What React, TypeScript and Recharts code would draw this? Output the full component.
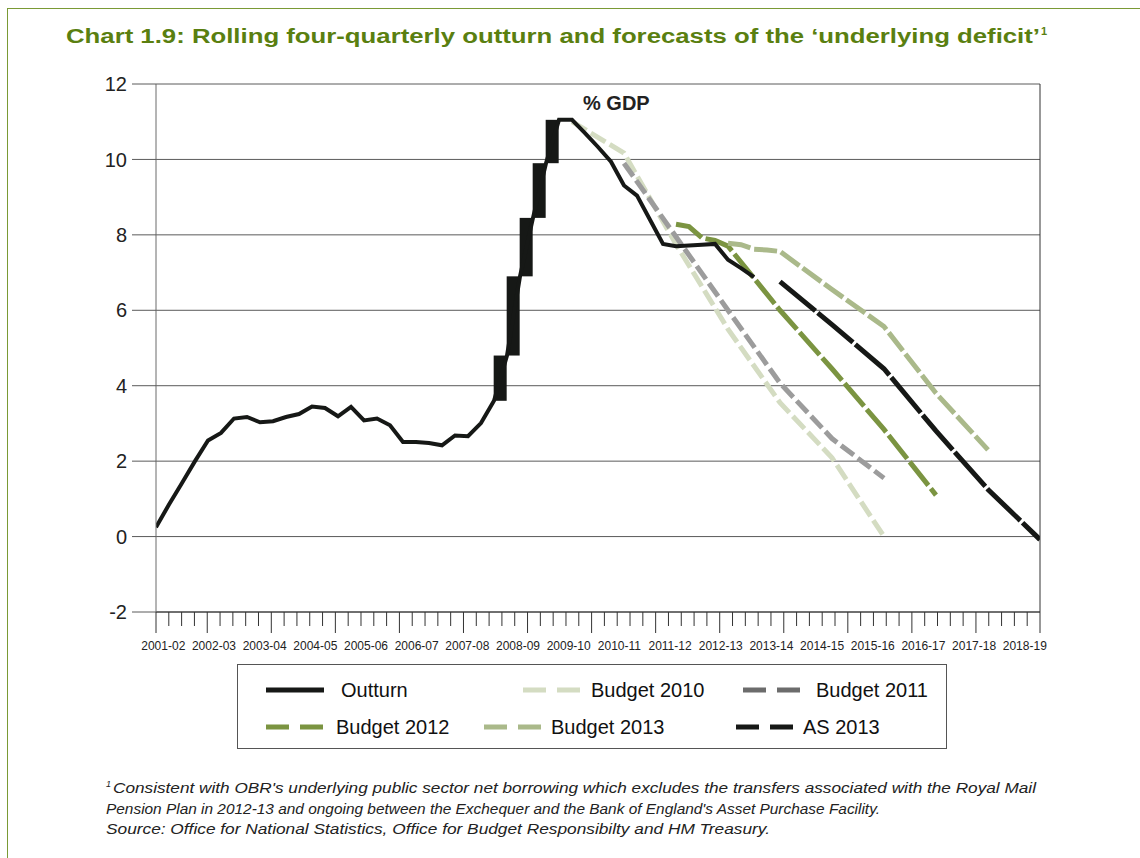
import React from 'react';
import { ComposedChart, Line, Bar, XAxis, YAxis, CartesianGrid } from 'recharts';

// quarterly series, index 0 = first quarter of 2001-02
const yearLabels = [
  '2001-02', '2002-03', '2003-04', '2004-05', '2005-06', '2006-07', '2007-08', '2008-09', '2009-10',
  '2010-11', '2011-12', '2012-13', '2013-14', '2014-15', '2015-16', '2016-17', '2017-18', '2018-19',
];

const outturn = [
  0.25, 0.85, 1.42, 2.0, 2.55, 2.75, 3.13, 3.17, 3.03, 3.06,
  3.17, 3.25, 3.45, 3.41, 3.19, 3.44, 3.08, 3.13, 2.95, 2.51,
  2.51, 2.48, 2.42, 2.68, 2.66, 3.01, 3.6, 4.8, 6.9, 8.45,
  9.9, 11.05, 11.05, 10.7, 10.33, 9.94, 9.31, 9.04, 8.4, 7.76,
  7.7, 7.72, 7.74, 7.76, 7.34, 7.12, 6.88,
];

const budget2010Quarters = [32, 36, 40, 44, 48, 52, 56];
const budget2010 = [11.0, 10.17, 7.75, 5.5, 3.55, 2.09, 0];

const budget2011Quarters = [36, 40, 44, 48, 52, 56];
const budget2011 = [9.9, 7.95, 6.0, 4.07, 2.6, 1.55];

const budget2012Quarters = [40, 41, 42, 43, 44, 48, 52, 56, 60];
const budget2012 = [8.28, 8.22, 7.92, 7.85, 7.7, 6.0, 4.45, 2.84, 1.1];

const budget2013Quarters = [44, 45, 46, 47, 48, 52, 56, 60, 64];
const budget2013 = [7.78, 7.74, 7.62, 7.6, 7.56, 6.55, 5.57, 3.8, 2.3];

const as2013Quarters = [48, 52, 56, 60, 64, 68];
const as2013 = [6.76, 5.62, 4.45, 2.8, 1.25, -0.08];

const yTicks = [-2, 0, 2, 4, 6, 8, 10, 12];

const LAST_QUARTER = 68;
// the original's tick marks and year labels do not sit on the data quarters:
// 69 tick slots across the axis, labels spread evenly with a small inset
const TICK_SLOTS = 69;
const tickQs = Array.from({ length: TICK_SLOTS + 1 }, (_, i) => (i * LAST_QUARTER) / TICK_SLOTS);
const LABEL_START = -0.144;
const LABEL_END = 17.3;
const labelQs = yearLabels.map(
  (_, i) => ((i - LABEL_START) * LAST_QUARTER) / (LABEL_END - LABEL_START)
);

type Row = { q: number; [k: string]: any };

const rows: Record<string, Row> = {};
const put = (q: number, key: string, v: any) => {
  if (!rows[q]) rows[q] = { q };
  rows[q][key] = v;
};
outturn.forEach((v, i) => put(i, 'outturn', v));
budget2010.forEach((v, i) => put(budget2010Quarters[i], 'b2010', v));
budget2011.forEach((v, i) => put(budget2011Quarters[i], 'b2011', v));
budget2012.forEach((v, i) => put(budget2012Quarters[i], 'b2012', v));
budget2013.forEach((v, i) => put(budget2013Quarters[i], 'b2013', v));
as2013.forEach((v, i) => put(as2013Quarters[i], 'as2013', v));
// steep outturn moves render as solid blocks in the original
outturn.forEach((v, i) => {
  const next = outturn[i + 1];
  if (next !== undefined && Math.abs(next - v) > 1) {
    put(i + 0.5, 'block', [Math.min(v, next), Math.max(v, next)]);
  }
});
const chartData = Object.values(rows).sort((a, b) => a.q - b.q);

const series = [
  { key: 'outturn', name: 'Outturn', color: '#161816', legend: '#161816', dash: undefined, width: 4 },
  { key: 'b2010', name: 'Budget 2010', color: '#d4dcc2', legend: '#d4dcc2', dash: '17 5', width: 5 },
  { key: 'b2011', name: 'Budget 2011', color: '#9c9c9c', legend: '#6c6c6c', dash: '16 5', width: 5 },
  { key: 'b2012', name: 'Budget 2012', color: '#7b9441', legend: '#7b9441', dash: '30 4', width: 5 },
  { key: 'b2013', name: 'Budget 2013', color: '#aab98a', legend: '#aab98a', dash: '23 4', width: 5 },
  { key: 'as2013', name: 'AS 2013', color: '#161816', legend: '#161816', dash: '46 3', width: 5 },
];

// legend entry placement inside the box (left of sample, left of text, row)
const legendLayout = [
  { sample: 28, text: 103, row: 0 },
  { sample: 285, text: 353, row: 0 },
  { sample: 505, text: 578, row: 0 },
  { sample: 28, text: 98, row: 1 },
  { sample: 246, text: 313, row: 1 },
  { sample: 498, text: 565, row: 1 },
];

const footnoteLines = [
  "Consistent with OBR's underlying public sector net borrowing which excludes the transfers associated with the Royal Mail",
  "Pension Plan in 2012-13 and ongoing between the Exchequer and the Bank of England's Asset Purchase Facility.",
  'Source: Office for National Statistics, Office for Budget Responsibilty and HM Treasury.',
];

const FONT = '"Liberation Sans", Arial, Helvetica, sans-serif';

const QuarterTick = (props: any) => {
  const { x, y, index } = props;
  const major = index === 0 || index % 5 === 4;
  return <line x1={x} x2={x} y1={y} y2={y + (major ? 21 : 14)} stroke="#333" strokeWidth={1} />;
};

const YearTick = (props: any) => {
  const { x, y, index } = props;
  return (
    <text x={x} y={y} dy="0.71em" textAnchor="middle" fontSize={12} fill="#222" fontFamily={FONT}>
      {yearLabels[index]}
    </text>
  );
};

// draw the steep-move blocks one quarter wide, centred on the segment
const BlockShape = (props: any) => {
  const { x, y, width, height, fill } = props;
  if (x == null || y == null) return null;
  const cx = x + width / 2;
  const top = Math.min(y, y + height);
  return <rect x={cx - 6.5} y={top} width={13} height={Math.abs(height)} fill={fill} />;
};

const LegendBox = () => (
  <div
    style={{
      position: 'absolute',
      left: 237,
      top: 664,
      width: 708,
      height: 83,
      border: '1px solid #555',
      fontFamily: FONT,
      fontSize: 20,
      color: '#111',
    }}
  >
    {series.map((s, i) => {
      const pos = legendLayout[i];
      const cy = pos.row === 0 ? 25 : 62;
      return (
        <React.Fragment key={s.key}>
          <svg width={58} height={10} style={{ position: 'absolute', left: pos.sample, top: cy - 5 }}>
            <line
              x1={0}
              x2={58}
              y1={5}
              y2={5}
              stroke={s.legend}
              strokeWidth={5}
              strokeDasharray={s.dash ? '23 11' : undefined}
            />
          </svg>
          <span style={{ position: 'absolute', left: pos.text, top: cy - 12, whiteSpace: 'nowrap', lineHeight: '24px' }}>
            {s.name}
          </span>
        </React.Fragment>
      );
    })}
  </div>
);

const App: React.FC = () => {
  return (
    <div
      style={{
        position: 'absolute',
        left: 0,
        top: 0,
        width: 1140,
        height: 858,
        background: '#fff',
        fontFamily: FONT,
        overflow: 'hidden',
      }}
    >
      <div
        style={{
          position: 'absolute',
          left: 7,
          top: 8,
          width: 1140,
          height: 858,
          borderTop: '1px solid #7a9a35',
          borderLeft: '1px solid #7a9a35',
        }}
      />

      {/* title and footnote as svg text so their widths follow the original */}
      <svg width={1140} height={858} style={{ position: 'absolute', left: 0, top: 0 }}>
        <text
          x={66}
          y={43}
          fontFamily={FONT}
          fontSize={20}
          fontWeight="bold"
          fill="#5a7f10"
          textLength={974}
          lengthAdjust="spacingAndGlyphs"
        >
          Chart 1.9: Rolling four-quarterly outturn and forecasts of the ‘underlying deficit’
        </text>
        <text x={1041} y={35} fontFamily={FONT} fontSize={11} fontWeight="bold" fill="#5a7f10">
          1
        </text>
        <text x={106} y={787} fontFamily={FONT} fontSize={9} fontStyle="italic" fill="#222">
          1
        </text>
        {footnoteLines.map((line, i) => (
          <text
            key={i}
            x={i === 0 ? 113 : 106}
            y={793 + i * 20.5}
            fontFamily={FONT}
            fontSize={15.5}
            fontStyle="italic"
            fill="#222"
            textLength={[923, 774, 664][i]}
            lengthAdjust="spacingAndGlyphs"
          >
            {line}
          </text>
        ))}
      </svg>

      <div style={{ position: 'absolute', left: 0, top: 0 }}>
        <ComposedChart
          width={1140}
          height={680}
          data={chartData}
          margin={{ top: 84, right: 99, left: 76, bottom: 16 }}
        >
          <CartesianGrid xAxisId="q" vertical={false} stroke="#5a5a5a" strokeWidth={1} />
          <XAxis xAxisId="q" dataKey="q" type="number" domain={[0, LAST_QUARTER]} allowDataOverflow hide />
          <XAxis
            xAxisId="b"
            dataKey="q"
            type="number"
            domain={[0, LAST_QUARTER]}
            allowDataOverflow
            ticks={labelQs}
            interval={0}
            tick={<YearTick />}
            tickLine={false}
            axisLine={false}
            tickSize={0}
            tickMargin={7}
            height={30}
          />
          <XAxis
            xAxisId="a"
            dataKey="q"
            type="number"
            domain={[0, LAST_QUARTER]}
            allowDataOverflow
            ticks={tickQs}
            interval={0}
            tick={<QuarterTick />}
            tickLine={false}
            tickSize={0}
            tickMargin={0}
            axisLine={{ stroke: '#333' }}
            height={22}
          />
          <YAxis
            type="number"
            domain={[-2, 12]}
            ticks={yTicks}
            interval={0}
            width={80}
            tickSize={24}
            tickMargin={5}
            tick={{ fontSize: 20, fill: '#222', fontFamily: FONT }}
            tickLine={{ stroke: '#5a5a5a' }}
            axisLine={{ stroke: '#6a6a6a' }}
          />
          <YAxis
            yAxisId="r"
            orientation="right"
            type="number"
            domain={[-2, 12]}
            width={1}
            tick={false}
            tickLine={false}
            axisLine={{ stroke: '#333' }}
          />
          {series.slice(1).map((s) => (
            <Line
              key={s.key}
              xAxisId="q"
              dataKey={s.key}
              stroke={s.color}
              strokeWidth={s.width}
              strokeDasharray={s.dash}
              dot={false}
              activeDot={false}
              connectNulls
              isAnimationActive={false}
            />
          ))}
          <Bar
            xAxisId="q"
            dataKey="block"
            fill="#161816"
            barSize={13}
            shape={<BlockShape />}
            isAnimationActive={false}
          />
          <Line
            xAxisId="q"
            dataKey="outturn"
            stroke="#161816"
            strokeWidth={4}
            dot={false}
            activeDot={false}
            connectNulls
            isAnimationActive={false}
          />
        </ComposedChart>
      </div>

      <div
        style={{
          position: 'absolute',
          left: 583,
          top: 92,
          fontSize: 20,
          fontWeight: 'bold',
          color: '#222',
          whiteSpace: 'nowrap',
        }}
      >
        % GDP
      </div>

      <LegendBox />
    </div>
  );
};

export default App;
